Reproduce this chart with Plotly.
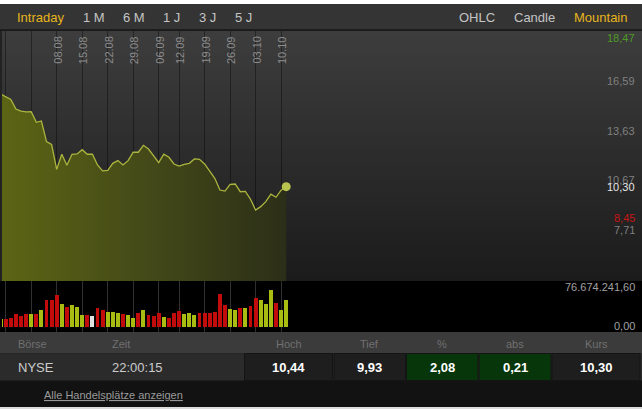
import plotly.graph_objects as go

W, H = 642, 409
FONT = "Arial, Liberation Sans, sans-serif"

# ---------------- data ----------------
dates = ["22.07", "25.07", "26.07", "27.07", "28.07", "29.07",
         "01.08", "02.08", "03.08", "04.08", "05.08",
         "08.08", "09.08", "10.08", "11.08", "12.08",
         "15.08", "16.08", "17.08", "18.08", "19.08",
         "22.08", "23.08", "24.08", "25.08", "26.08",
         "29.08", "30.08", "31.08", "01.09", "02.09",
         "06.09", "07.09", "08.09", "09.09",
         "12.09", "13.09", "14.09", "15.09", "16.09",
         "19.09", "20.09", "21.09", "22.09", "23.09",
         "26.09", "27.09", "28.09", "29.09", "30.09",
         "03.10", "04.10", "05.10", "06.10", "07.10",
         "10.10", "11.10"]

close = [15.82, 15.67, 15.49, 14.92, 14.80, 14.75,
         14.76, 14.13, 14.21, 12.98, 12.82,
         11.33, 12.23, 11.57, 12.23, 12.25,
         12.50, 12.23, 12.23, 11.59, 11.24,
         11.27, 11.69, 11.85, 11.59, 11.85,
         12.36, 12.35, 12.76, 12.54, 12.13,
         11.73, 12.23, 12.05, 11.65,
         11.53, 11.63, 11.69, 11.95, 11.93,
         11.65, 11.25, 10.80, 10.10, 10.04,
         10.44, 10.46, 10.00, 10.02, 9.55,
         8.91, 9.11, 9.41, 9.85, 9.67,
         10.09, 10.30]

volume_mio = [14.5, 15.2, 17.8, 25.1, 21.1, 25.1,
              25.1, 25.1, 33.0, 52.8, 52.8,
              62.7, 44.9, 39.6, 42.9, 39.0,
              23.1, 23.1, 21.1, 37.0, 33.0,
              29.7, 28.4, 27.1, 25.1, 23.1,
              16.5, 27.7, 33.0, 23.1, 21.1,
              27.1, 19.2, 17.2, 27.1,
              31.0, 25.1, 27.1, 23.1, 27.7,
              27.7, 27.7, 29.1, 64.7, 42.9,
              35.0, 33.0, 37.0, 37.0, 40.9,
              56.8, 52.8, 44.9, 72.6, 46.9,
              33.0, 52.8]

direction = ["u", "d", "d", "d", "d", "d",
             "u", "d", "u", "d", "d",
             "d", "u", "d", "u", "u",
             "u", "d", "n", "d", "d",
             "u", "u", "u", "d", "u",
             "u", "d", "u", "d", "d",
             "d", "u", "d", "d",
             "d", "u", "u", "u", "d",
             "d", "d", "d", "d", "d",
             "u", "u", "d", "u", "d",
             "d", "u", "u", "u", "d",
             "u", "u"]

grid_dates = ["25.07", "01.08", "08.08", "15.08", "22.08", "29.08",
              "06.09", "12.09", "19.09", "26.09", "03.10", "10.10"]
labeled_dates = ["08.08", "15.08", "22.08", "29.08", "06.09",
                 "12.09", "19.09", "26.09", "03.10", "10.10"]

y_tick_vals = [16.59, 13.63, 10.67, 7.71]
y_tick_text = ["16,59", "13,63", "10,67", "7,71"]
period_high_text = "18,47"
period_low_val, period_low_text = 8.45, "8,45"
last_text = "10,30"
volume_max_text = "76.674.241,60"
volume_min_text = "0,00"

toolbar_left = ["Intraday", "1 M", "6 M", "1 J", "3 J", "5 J"]
toolbar_right = ["OHLC", "Candle", "Mountain"]
table_headers = ["Börse", "Zeit", "Hoch", "Tief", "%", "abs", "Kurs"]
table_row = ["NYSE", "22:00:15", "10,44", "9,93", "2,08", "0,21", "10,30"]
link_text = "Alle Handelsplätze anzeigen"

# ---------------- helpers ----------------
def px(x):
    return x / W


def py(y):
    return 1 - y / H


shapes = []


def rect(x0, y0, x1, y1, color, line=None):
    shapes.append(dict(type="rect", xref="paper", yref="paper",
                       x0=px(x0), x1=px(x1), y0=py(y1), y1=py(y0),
                       fillcolor=color, layer="below",
                       line=dict(width=1 if line else 0, color=line or color)))


annotations = []


def ann(text, x, y, size=11, color="#888888", xanchor="center", xref="paper",
        yref="paper", angle=0, bold=False, xshift=0):
    annotations.append(dict(
        text=f"<b>{text}</b>" if bold else text,
        x=px(x) if xref == "paper" else x,
        y=py(y) if yref == "paper" else y,
        xref=xref, yref=yref, xanchor=xanchor, yanchor="middle",
        showarrow=False, textangle=angle, xshift=xshift,
        font=dict(family=FONT, size=size, color=color)))


# ---------------- background panels ----------------
rect(0, 0, W, 4, "#ffffff")
rect(0, 4, W, 29.5, "#343434")
rect(0, 29.5, W, 31, "#1b1b1b")
n_bands = 50
top_g, bot_g = 61, 27
for b in range(n_bands):
    y0 = 31 + (281 - 31) * b / n_bands
    y1 = 31 + (281 - 31) * (b + 1) / n_bands + 0.5
    g = round(top_g + (bot_g - top_g) * (b + 0.5) / n_bands)
    rect(0, y0, W, y1, f"rgb({g},{g},{g})")
rect(0, 31, 2, 281, "#222222")
rect(0, 281, W, 332, "#000000")
rect(0, 332, W, 353.3, "#3b3b3b")
rect(0, 353.3, W, 380.7, "#2b2b2b")
rect(0, 380.7, W, 407, "#121212")
rect(0, 407, W, H, "#dcdcdc")

cells = [(244.5, 332.5, "#1e1e1e"), (334, 405.5, "#1e1e1e"),
         (406.5, 478, "#06360a"), (479, 551, "#06360a"),
         (552, 640, "#1e1e1e")]
for x0, x1, c in cells:
    rect(x0, 353.5, x1, 380.5, c, line="#141414")

# ---------------- traces ----------------
xs = list(range(len(dates)))
bar_colors = {"u": "#a8bc12", "d": "#c20b0b", "n": "#e2e2e2"}

fig = go.Figure()
fig.add_trace(go.Scatter(
    x=xs, y=close, mode="lines", fill="tozeroy",
    fillgradient=dict(type="horizontal",
                      colorscale=[[0, "rgb(92,101,20)"], [0.5, "rgb(68,74,24)"],
                                  [1, "rgb(44,47,24)"]]),
    line=dict(color="rgb(172,182,62)", width=1.3),
    hoverinfo="skip", xaxis="x", yaxis="y"))
fig.add_trace(go.Scatter(
    x=[xs[-1]], y=[close[-1]], mode="markers",
    marker=dict(size=9, color="rgb(184,194,78)"),
    hoverinfo="skip", xaxis="x", yaxis="y"))
fig.add_trace(go.Bar(
    x=xs, y=volume_mio, width=0.78,
    marker=dict(color=[bar_colors[d] for d in direction], line=dict(width=0)),
    hoverinfo="skip", xaxis="x2", yaxis="y2"))

# ---------------- axes ----------------
grid_vals = [dates.index(d) for d in grid_dates]
x_range = [(2 - 0.6) / 5.1, (640 - 0.6) / 5.1]
x_domain = [px(2), px(640)]

price_px_per_unit = 16.8
price_range = [16.59 - (281 - 81) / price_px_per_unit,
               16.59 + (81 - 31) / price_px_per_unit]
vol_px_per_mio = 38.7 / 76.674
vol_range = [-(332 - 326.7) / vol_px_per_mio, 76.674 + (288 - 281) / vol_px_per_mio]

common_x = dict(domain=x_domain, range=x_range, tickvals=grid_vals,
                showticklabels=False, ticks="", zeroline=False, showline=False)
fig.update_layout(
    xaxis=dict(**common_x, anchor="y", showgrid=True,
               gridcolor="rgba(0,0,0,0.38)", gridwidth=1),
    yaxis=dict(domain=[py(281), py(31)], range=price_range, showgrid=False,
               showticklabels=False, zeroline=False, anchor="x"),
    xaxis2=dict(**common_x, anchor="y2", matches="x", showgrid=True,
                gridcolor="#303030", gridwidth=1),
    yaxis2=dict(domain=[py(332), py(281)], range=vol_range, showgrid=False,
                showticklabels=False, zeroline=False, anchor="x2"),
)

# ---------------- texts ----------------
left_x = [40.3, 93.7, 133.8, 172, 207.7, 243.7]
for t, x in zip(toolbar_left, left_x):
    ann(t, x, 17.5, size=13, color="#e8b51c" if t == "Intraday" else "#c4c4c4")
right_x = [477, 534.2, 600.3]
for t, x in zip(toolbar_right, right_x):
    ann(t, x, 17.5, size=13, color="#e8b51c" if t == "Mountain" else "#c4c4c4")

for d in labeled_dates:
    annotations.append(dict(text=d, x=dates.index(d), xref="x", y=py(50), yref="paper",
                            xanchor="center", yanchor="middle", showarrow=False,
                            textangle=-90, xshift=1,
                            font=dict(family=FONT, size=11, color="#8c8c8c")))

for v, t in zip(y_tick_vals, y_tick_text):
    ann(t, 637, v, size=11, color="#808080", xanchor="right", yref="y")
ann(period_high_text, 637, 38.3, size=11, color="#4f9a25", xanchor="right")
ann(last_text, 637, close[-1], size=11, color="#e6e6e6", xanchor="right", yref="y")
ann(period_low_text, 637, period_low_val, size=11, color="#c81414", xanchor="right",
    yref="y")

ann(volume_max_text, 637, 286.5, size=11, color="#a0a0a0", xanchor="right")
ann(volume_min_text, 637, 325.5, size=11, color="#a0a0a0", xanchor="right")

ann(table_headers[0], 16, 343.5, size=11, color="#707070", xanchor="left")
ann(table_headers[1], 110, 343.5, size=11, color="#707070", xanchor="left")
col_centers = [288.5, 370, 442.2, 515, 596]
for t, x in zip(table_headers[2:], col_centers):
    ann(t, x, 343.5, size=11, color="#707070")
ann(table_row[0], 16, 367, size=13, color="#cccccc", xanchor="left")
ann(table_row[1], 110, 367, size=13, color="#cccccc", xanchor="left")
for t, x in zip(table_row[2:], col_centers):
    ann(t, x, 367, size=13, color="#ffffff", bold=True)
ann(f"<u>{link_text}</u>", 42, 395, size=11, color="#9a9a9a", xanchor="left")

fig.update_layout(
    width=W, height=H, margin=dict(l=0, r=0, t=0, b=0),
    paper_bgcolor="#121212", plot_bgcolor="rgba(0,0,0,0)",
    showlegend=False, bargap=0, shapes=shapes, annotations=annotations,
    font=dict(family=FONT),
)

fig.write_html("out.html", config={"displayModeBar": False},
               post_script="document.body.style.margin='0px';")
